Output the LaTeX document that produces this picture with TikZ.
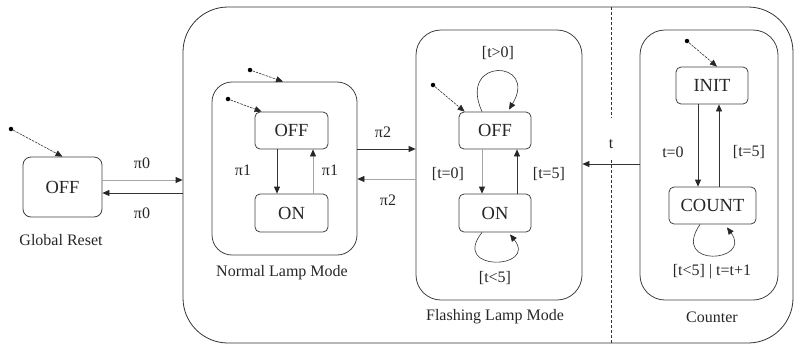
\documentclass[tikz,border=0pt]{standalone}
\usepackage{fontspec}
\setmainfont{Liberation Serif}
\usetikzlibrary{arrows.meta,calc}
\begin{document}
\begin{tikzpicture}[x=1pt,y=-1pt,
  line width=0.8pt,
  >={Triangle[length=7pt,width=6pt,color=black!85]},
  lbl/.style={font=\fontsize{16}{18}\selectfont, text=black!85},
  st/.style={draw=black!75, rounded corners=5pt, inner sep=0pt, font=\fontsize{18.5}{20}\selectfont, text=black!85},
  cont/.style={draw=black!75, rounded corners=22pt, inner sep=0pt},
  conn/.style={draw=black!80},
  lite/.style={draw=black!35},
  initdot/.style={circle, fill=black, inner sep=0pt, minimum size=4.5pt},
  initarr/.style={draw=black!80, line width=0.6pt, dash pattern=on 2.5pt off 1pt, ->},
  loop/.style={draw=black!80, line width=0.6pt, ->}
]
\useasboundingbox (0,0) rectangle (795,346);

% outer container
\node[draw=black!80, rounded corners=45pt, minimum width=610pt, minimum height=336pt, inner sep=0pt] (outer) at (488,175) {};

% global reset
\node[st, rounded corners=8pt, minimum width=79pt, minimum height=60pt] (gOFF) at (62.5,187) {OFF};
\node[initdot] (gdot) at (11,129) {};
\draw[initarr] (gdot) -- (gOFF.north);
\node[lbl] (gname) at (61,240) {Global Reset};

% normal lamp mode
\node[cont, rounded corners=20pt, minimum width=145pt, minimum height=173pt] (nlm) at (284.5,168.5) {};
\node[st, minimum width=73pt, minimum height=37pt] (nOFF) at (291.5,130.5) {OFF};
\node[st, minimum width=73pt, minimum height=38pt] (nON) at (291.5,213) {ON};
\node[initdot] (ndot) at (250,70) {};
\draw[initarr] (ndot) -- ([xshift=-1.5pt]nlm.north);
\node[initdot] (ndot2) at (228,99) {};
\draw[initarr] (ndot2) -- ([xshift=7pt]nOFF.north west);
\draw[conn,->] ([xshift=-14.5pt]nOFF.south) -- ([xshift=-14.5pt]nON.north);
\draw[lite,->] ([xshift=21.5pt]nON.north) -- ([xshift=21.5pt]nOFF.south);
\node[lbl] (lp1a) at (243,170) {π1};
\node[lbl] (lp1b) at (330,170) {π1};
\node[lbl] (nname) at (282,273) {Normal Lamp Mode};

% flashing lamp mode
\node[cont, rounded corners=25pt, minimum width=166pt, minimum height=270pt] (flm) at (499,165) {};
\node[st, minimum width=72pt, minimum height=37pt] (fOFF) at (495,130.5) {OFF};
\node[st, minimum width=72pt, minimum height=38pt] (fON) at (495,213) {ON};
\node[initdot] (fdot) at (433,85) {};
\draw[initarr] (fdot) -- ([xshift=6pt]fOFF.north west);
\draw[loop] ([xshift=-13pt]fOFF.north) .. controls +(-25,-55) and +(30,-50) .. ([xshift=14pt,yshift=2pt]fOFF.north);
\draw[lite,->] ([xshift=-13pt]fOFF.south) -- ([xshift=-13pt]fON.north);
\draw[conn,->] ([xshift=22pt]fON.north) -- ([xshift=22pt]fOFF.south);
\draw[loop] ([xshift=-13pt]fON.south) .. controls +(-32,40) and +(28,35) .. ([xshift=15pt,yshift=-2pt]fON.south);
\node[lbl] (lt0) at (498,53) {[t>0]};
\node[lbl] (lt1) at (448,174) {[t=0]};
\node[lbl] (lt2) at (549,174) {[t=5]};
\node[lbl] (lt3) at (495,278) {[t<5]};
\node[lbl] (fname) at (495,317) {Flashing Lamp Mode};

% counter
\node[cont, rounded corners=25pt, minimum width=138pt, minimum height=270pt] (ctr) at (709,165) {};
\node[st, minimum width=72pt, minimum height=37pt] (cINIT) at (712,85.5) {INIT};
\node[st, minimum width=87pt, minimum height=37pt] (cCOUNT) at (712.5,205.5) {COUNT};
\node[initdot] (cdot) at (687,41) {};
\draw[initarr] (cdot) -- ([xshift=5pt]cINIT.north);
\draw[conn,->] ([xshift=-14pt]cINIT.south) coordinate (c1) -- (c1 |- cCOUNT.north);
\draw[conn,->] ([xshift=7pt]cINIT.south |- cCOUNT.north) -- ([xshift=7pt]cINIT.south);
\draw[loop] ([xshift=-12.5pt]cCOUNT.south) .. controls +(-30,44) and +(26,35) .. ([xshift=14.5pt,yshift=-3pt]cCOUNT.south);
\node[lbl] (lc1) at (673,152) {t=0};
\node[lbl] (lc2) at (749,152) {[t=5]};
\node[lbl] (lc3) at (712,272) {[t<5] | t=t+1};
\node[lbl] (cname) at (712,317) {Counter};

% connections between regions
\draw[lite,->] ([yshift=7pt]gOFF.east) coordinate (a1) -- (a1 -| outer.west);
\draw[conn,<-] ([yshift=-6pt]gOFF.east) coordinate (a2) -- (a2 -| outer.west);
\node[lbl] (lp0a) at (142,163) {π0};
\node[lbl] (lp0b) at (142,213) {π0};

\draw[conn,->] ([yshift=19.5pt]nlm.east) coordinate (b1) -- (b1 -| flm.west);
\draw[lite,<-] ([yshift=-10.5pt]nlm.east) coordinate (b2) -- (b2 -| flm.west);
\node[lbl] (lp2a) at (383,132) {π2};
\node[lbl] (lp2b) at (388,200) {π2};

\draw[conn,->] ([yshift=1pt]ctr.west) coordinate (t1) -- (t1 -| flm.east);
\node[lbl] (lt) at (611,144) {t};

% dashed separator
\coordinate (d1) at (611,7);
\coordinate (d2) at (611,118);
\coordinate (d3) at (611,160);
\coordinate (d4) at (611,343);
\draw[black!80, line width=0.8pt, dash pattern=on 3pt off 2pt] (d1) -- (d2) (d3) -- (d4);
\end{tikzpicture}
\end{document}
